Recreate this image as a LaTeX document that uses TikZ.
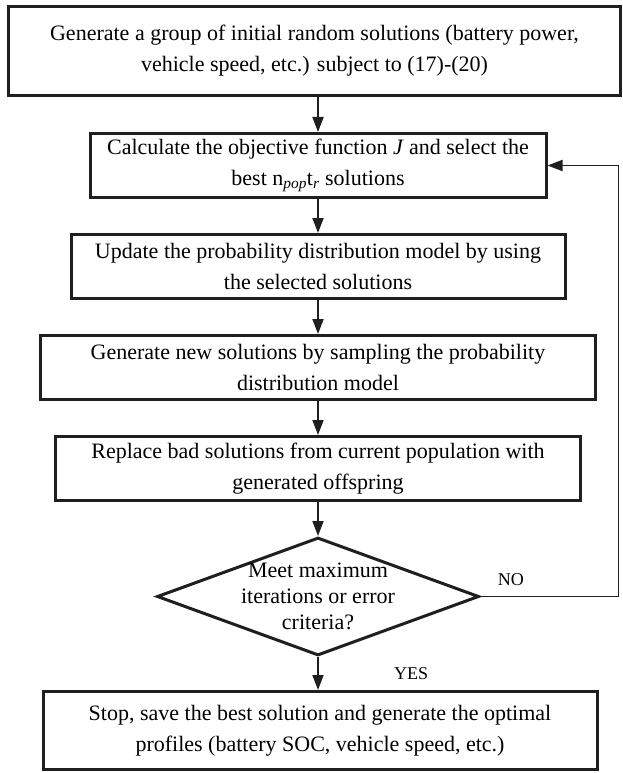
\documentclass[tikz,border=0pt]{standalone}
\usepackage{fontspec}
\setmainfont{Liberation Serif}
\usepackage{tikz}
\usetikzlibrary{arrows.meta,shapes.geometric}
\usetikzlibrary{positioning}
\tikzset{
    block/.style={
           rectangle,
           draw=black!88, line width=3pt,
           fill=white,
           inner sep=0pt,
           align=center,
           font=\fontsize{22}{31}\selectfont,
           },
    decide/.style={
           diamond,
           draw=black!88, line width=3pt,
           fill=white,
           inner sep=-40pt,
           align=center,
           minimum width=322pt,
           minimum height=118pt,
           font=\fontsize{22}{26}\selectfont,
           },
    pil/.style={
           -{Triangle[length=15pt,width=11pt]},
           line width=1.8pt,
           draw=black!88,},
    tag/.style={font=\fontsize{18}{20}\selectfont}
}

\begin{document}
\begin{tikzpicture}
\useasboundingbox (0,0) rectangle (623pt,-773pt);
% Position of initial population (GEN)
\node[block, minimum width=612pt, minimum height=89pt] (GEN) at (314.5pt,-51pt)
{Generate a group of initial random solutions (battery power,\\
vehicle speed, etc.) subject to (17)-(20)};
% Position of evaluation and selection (CALC)
\node[block,
minimum width=456pt, minimum height=64pt,
below = 35pt of GEN,
xshift = 3.5pt] (CALC)
{Calculate the objective function \textit{J} and select the\\
best n\textsubscript{\textit{pop}}t\textsubscript{\textit{r}} solutions};
% Position of model update (UPD)
\node[block,
minimum width=494pt, minimum height=64pt,
below = 34pt of CALC] (UPD)
{Update the probability distribution model by using\\
the selected solutions};
% Position of sampling (SAMPLE)
\node[block,
minimum width=555pt, minimum height=64pt,
below = 34pt of UPD] (SAMPLE)
{Generate new solutions by sampling the probability\\
distribution model};
% Position of replacement (REPLACE)
\node[block,
minimum width=525pt, minimum height=64pt,
below = 34pt of SAMPLE] (REPLACE)
{Replace bad solutions from current population with\\
generated offspring};
% Position of stopping test (DECIDE)
\node[decide,
below = 34pt of REPLACE] (DECIDE)
{Meet maximum\\
iterations or error\\
criteria?};
% Position of final output (STOP)
\node[block,
minimum width=554pt, minimum height=78pt,
below = 33pt of DECIDE,
xshift = 2pt] (STOP)
{Stop, save the best solution and generate the optimal\\
profiles (battery SOC, vehicle speed, etc.)};
% Draw lines on graph
\draw[pil] (GEN.south -| CALC.north) -- (CALC.north);
\path (CALC) edge[pil] (UPD);
\path (UPD) edge[pil] (SAMPLE);
\path (SAMPLE) edge[pil] (REPLACE);
\path (REPLACE) edge[pil] (DECIDE);
\draw[pil] (DECIDE.south) -- (DECIDE.south |- STOP.north)
  node[tag, midway, right = 72pt] {YES};
% Loop back when not finished
\draw[pil] (DECIDE.east) -- ++(138pt,0)
  node[tag, pos = 0.22, above = 7pt] {NO} |- (CALC.east);
\end{tikzpicture}
\end{document}
